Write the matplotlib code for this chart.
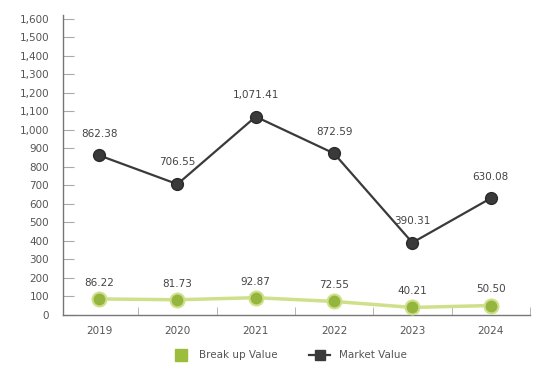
import matplotlib.pyplot as plt
from matplotlib.lines import Line2D
from matplotlib.ticker import FuncFormatter, MultipleLocator
import numpy as np

years = ["2019", "2020", "2021", "2022", "2023", "2024"]
market_value = [862.38, 706.55, 1071.41, 872.59, 390.31, 630.08]
break_up_value = [86.22, 81.73, 92.87, 72.55, 40.21, 50.50]

market_labels = ["862.38", "706.55", "1,071.41", "872.59", "390.31", "630.08"]
break_up_labels = ["86.22", "81.73", "92.87", "72.55", "40.21", "50.50"]

dark = "#3a3a3a"
green = "#94b53e"
light_green = "#cfe08a"
text_gray = "#555555"

fig = plt.figure(figsize=(5.39, 3.70), dpi=100)
ax = fig.add_axes([0.117, 0.149, 0.866, 0.81])

x = np.arange(len(years))

ax.plot(x, market_value, color=dark, lw=1.6, marker="o", ms=8.5,
        markerfacecolor=dark, markeredgecolor="#2a2a2a", zorder=3)
ax.plot(x, break_up_value, color=light_green, lw=2.5, zorder=2)
ax.plot(x, break_up_value, lw=0, marker="o", ms=10,
        markerfacecolor=green, markeredgecolor=light_green, mew=1.5, zorder=3)

for xi, v, lab in zip(x, market_value, market_labels):
    ax.annotate(lab, (xi, v), xytext=(0, 12), textcoords="offset points",
                ha="center", va="bottom", fontsize=7.5, color="#444444")
for xi, v, lab in zip(x, break_up_value, break_up_labels):
    ax.annotate(lab, (xi, v), xytext=(0, 8), textcoords="offset points",
                ha="center", va="bottom", fontsize=7.5, color="#444444")

ax.set_xlim(-0.46, 5.38)
ax.set_ylim(0, 1620)
ax.set_xticks(x)
ax.set_xticklabels(years)
ax.set_xticks(x + 0.5, minor=True)
ax.yaxis.set_major_locator(MultipleLocator(100))
ax.yaxis.set_major_formatter(FuncFormatter(lambda v, p: f"{int(v):,}"))

for side in ["top", "right"]:
    ax.spines[side].set_visible(False)
for side in ["left", "bottom"]:
    ax.spines[side].set_color("#777777")
    ax.spines[side].set_linewidth(1)

ax.tick_params(axis="y", direction="in", length=8, color="#aaaaaa",
               labelsize=7.5, labelcolor=text_gray, pad=10)
ax.tick_params(axis="x", which="major", length=0, labelsize=7.5,
               labelcolor=text_gray, pad=8)
ax.tick_params(axis="x", which="minor", direction="in", length=6,
               color="#aaaaaa")

handles = [
    Line2D([], [], lw=0, marker="s", ms=9, color="#9cbd3c"),
    Line2D([], [], color=dark, lw=1.6, marker="s", ms=7),
]
fig.legend(handles, ["Break up Value", "Market Value"], ncol=2,
           loc="center", bbox_to_anchor=(0.535, 0.04), frameon=False,
           fontsize=7.5, labelcolor=text_gray, columnspacing=3,
           handlelength=2)

fig.savefig("out.png", dpi=100)
